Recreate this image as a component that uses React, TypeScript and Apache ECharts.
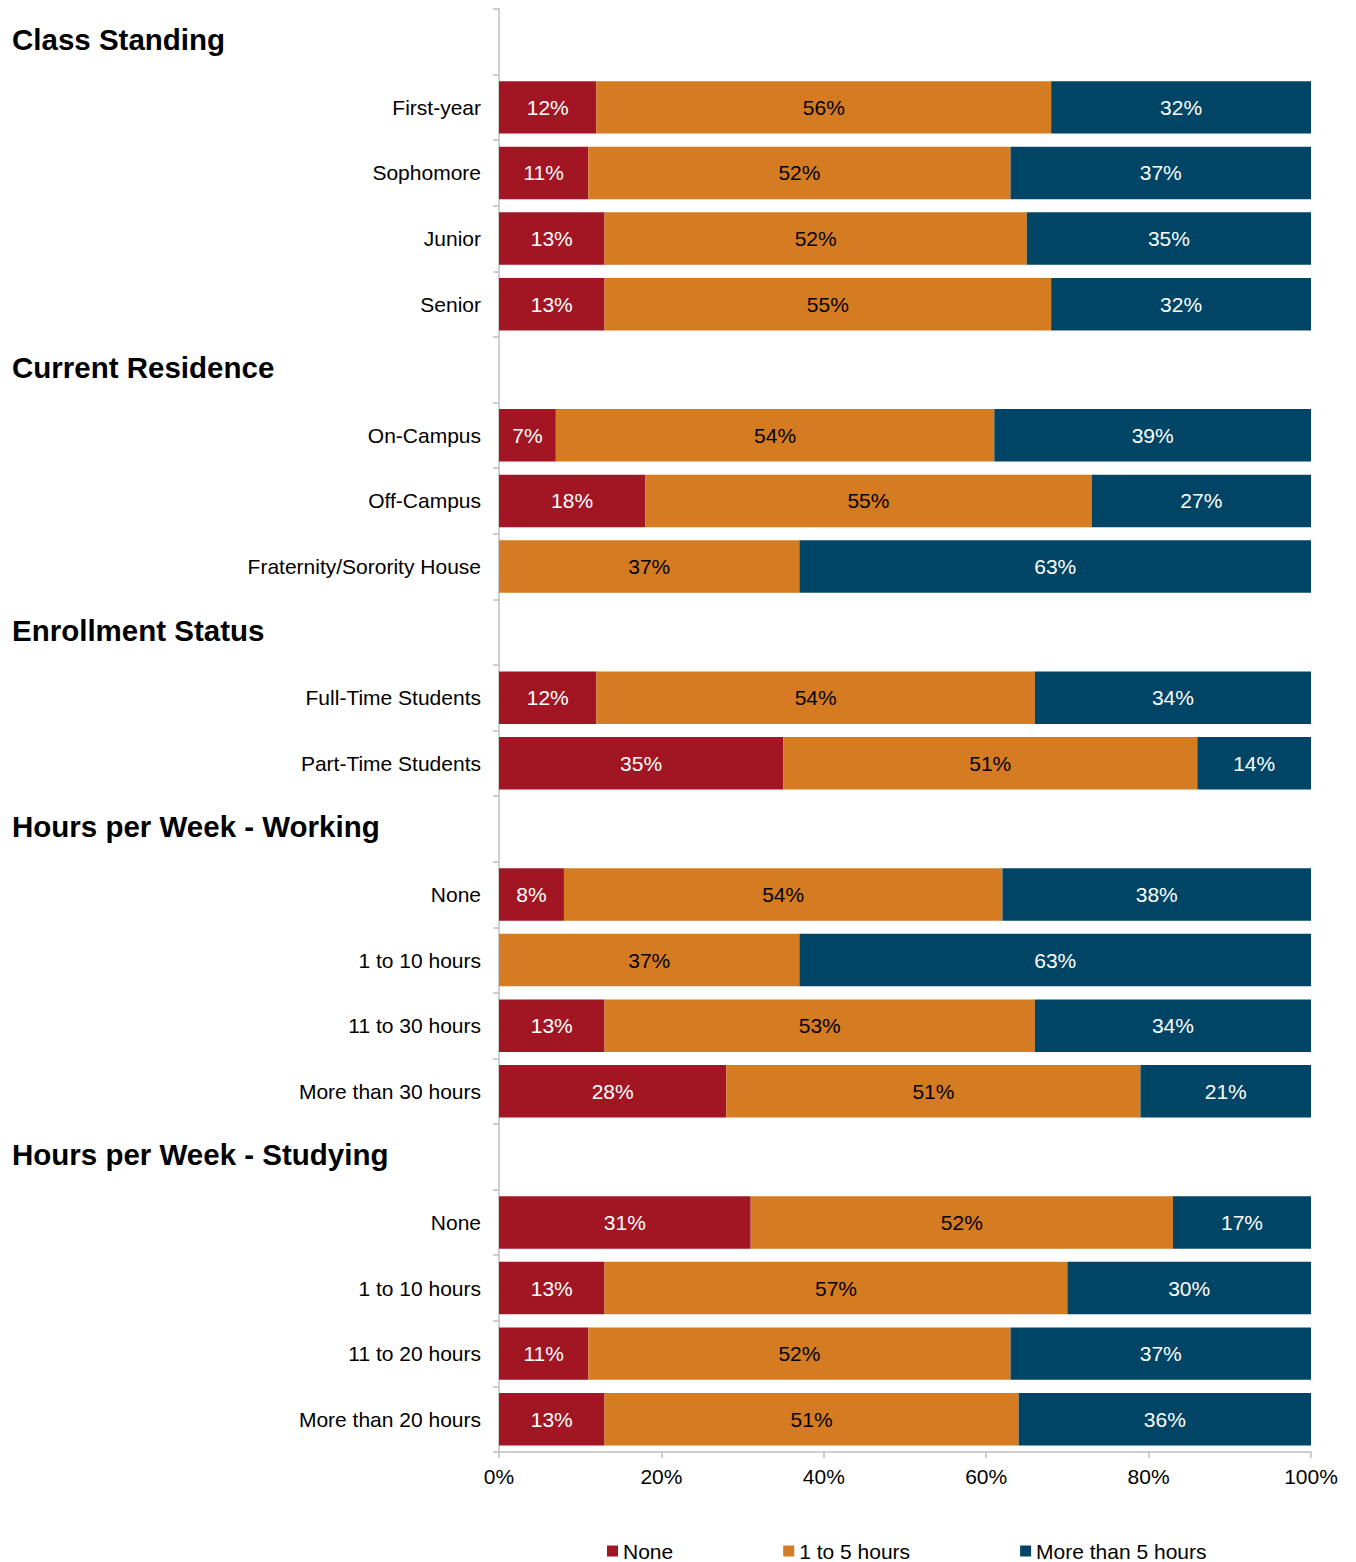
import React, { useEffect, useRef } from "react";
import * as echarts from "echarts";

const categories = [
  "Class Standing",
  "First-year",
  "Sophomore",
  "Junior",
  "Senior",
  "Current Residence",
  "On-Campus",
  "Off-Campus",
  "Fraternity/Sorority House",
  "Enrollment Status",
  "Full-Time Students",
  "Part-Time Students",
  "Hours per Week - Working",
  "None",
  "1 to 10 hours",
  "11 to 30 hours",
  "More than 30 hours",
  "Hours per Week - Studying",
  "None",
  "1 to 10 hours",
  "11 to 20 hours",
  "More than 20 hours",
];

const headerRows = [0, 5, 9, 12, 17];

const seriesNames = ["None", "1 to 5 hours", "More than 5 hours"];

const noneValues = [null, 12, 11, 13, 13, null, 7, 18, 0, null, 12, 35, null, 8, 0, 13, 28, null, 31, 13, 11, 13];
const midValues = [null, 56, 52, 52, 55, null, 54, 55, 37, null, 54, 51, null, 54, 37, 53, 51, null, 52, 57, 52, 51];
const moreValues = [null, 32, 37, 35, 32, null, 39, 27, 63, null, 34, 14, null, 38, 63, 34, 21, null, 17, 30, 37, 36];

const xTicks = [0, 20, 40, 60, 80, 100];

const colors = ["#A11622", "#D57B22", "#004565"];
const labelColors = ["#FFFFFF", "#000000", "#FFFFFF"];

const FONT = "'Liberation Sans', Arial, sans-serif";

export default function App() {
  const ref = useRef<HTMLDivElement>(null);

  useEffect(() => {
    if (!ref.current) return;
    const chart = echarts.init(ref.current, undefined, { renderer: "svg" });
    const values = [noneValues, midValues, moreValues];
    chart.setOption({
      animation: false,
      textStyle: { fontFamily: FONT },
      grid: { left: 499, right: 45, top: 9, bottom: 110, containLabel: false },
      legend: {
        data: seriesNames,
        left: 607,
        top: 1539,
        padding: 0,
        itemWidth: 11,
        itemHeight: 11,
        itemGap: 110,
        icon: "rect",
        textStyle: { fontSize: 21, color: "#000", fontFamily: FONT, lineHeight: 24 },
      },
      xAxis: {
        type: "value",
        min: xTicks[0],
        max: xTicks[xTicks.length - 1],
        interval: 20,
        axisLine: { show: true, lineStyle: { color: "#BFBFBF", width: 1.5 } },
        axisTick: { show: true, length: 6, lineStyle: { color: "#BFBFBF", width: 1.5 } },
        splitLine: { show: false },
        axisLabel: {
          formatter: "{value}%",
          fontSize: 21,
          color: "#000",
          margin: 14,
          fontFamily: FONT,
        },
      },
      yAxis: {
        type: "category",
        inverse: true,
        data: categories,
        axisLine: { show: true, lineStyle: { color: "#BFBFBF", width: 1.5 } },
        axisTick: { show: true, length: 6, lineStyle: { color: "#BFBFBF", width: 1.5 } },
        axisLabel: {
          margin: 18,
          interval: 0,
          formatter: (val: string, idx: number) =>
            headerRows.includes(idx) ? `{h|${val}}` : `{c|${val}}`,
          rich: {
            h: {
              fontSize: 29.5,
              fontWeight: "bold",
              color: "#000",
              width: 469,
              align: "left",
              padding: [0, 0, 4, 0],
              fontFamily: FONT,
            },
            c: { fontSize: 21, color: "#000", fontFamily: FONT },
          },
        },
      },
      series: seriesNames.map((name, i) => ({
        name,
        type: "bar",
        stack: "total",
        barCategoryGap: "20%",
        data: values[i],
        itemStyle: { color: colors[i] },
        label: {
          show: true,
          position: "inside",
          color: labelColors[i],
          fontSize: 21,
          fontFamily: FONT,
          formatter: (p: any) => (p.value ? `${p.value}%` : ""),
        },
      })),
    });
    return () => chart.dispose();
  }, []);

  return (
    <div
      ref={ref}
      style={{ position: "absolute", left: 0, top: 0, width: 1356, height: 1562 }}
    />
  );
}
